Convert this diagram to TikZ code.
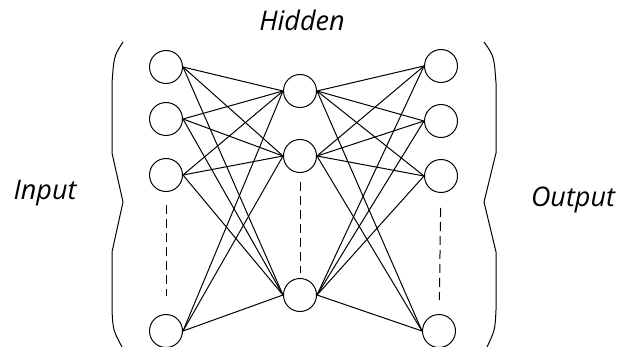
\documentclass[tikz,border=0pt]{standalone}
\usepackage{fontspec}
\setsansfont{Open Sans}
\usetikzlibrary{positioning}
\tikzset{
  unit/.style={draw, circle, minimum size=33pt, inner sep=0pt, line width=1pt},
  syn/.style={line width=1pt},
  gap/.style={line width=1pt, dash pattern=on 9pt off 5pt},
  lbl/.style={anchor=base, font=\sffamily\itshape\fontsize{27}{30}\selectfont},
}

\begin{document}
\begin{tikzpicture}[x=1pt, y=-1pt]
  \useasboundingbox (0,0) rectangle (617,347);
  % input layer
  \node[unit] (i1) at (166,67) {};
  \node[unit] (i2) at (166,119) {};
  \node[unit] (i3) at (166,175) {};
  \node[unit] (i4) at (166,331) {};
  % hidden layer
  \node[unit] (h1) at (300,91) {};
  \node[unit] (h2) at (300,156) {};
  \node[unit] (h3) at (300,295) {};
  % output layer
  \node[unit] (o1) at (441,66) {};
  \node[unit] (o2) at (441,121) {};
  \node[unit] (o3) at (441,176) {};
  \node[unit] (o4) at (439,331) {};
  % labels
  \node[lbl] (hid) at (302,31) {Hidden};
  \node[lbl] (inp) at (45,200) {Input};
  \node[lbl] (out) at (573,206) {Output};
  % weights
  \foreach \a in {1,2,3,4}
    \foreach \b in {1,2,3} {
      \draw[syn] (i\a.east) -- (h\b.west);
      \draw[syn] (h\b.east) -- (o\a.west);
    }
  % omitted units
  \draw[gap, shorten <=13pt, shorten >=18pt] (i3) -- (i4);
  \draw[gap, shorten <=9pt, shorten >=5pt] (h2) -- (h3);
  \draw[gap, shorten <=15pt, shorten >=14pt] (o3) -- (o4);
  % braces
  \draw[syn] (123,42) .. controls (114,56) .. (112,83) -- (112,153) -- (123,202)
    -- (112,252) -- (112,310) .. controls (113,330) .. (122,347);
  \draw[syn] (484,42) .. controls (494,56) .. (496,83) -- (496,153) -- (484,202)
    -- (496,252) -- (496,310) .. controls (495,330) .. (487,347);
\end{tikzpicture}
\end{document}
